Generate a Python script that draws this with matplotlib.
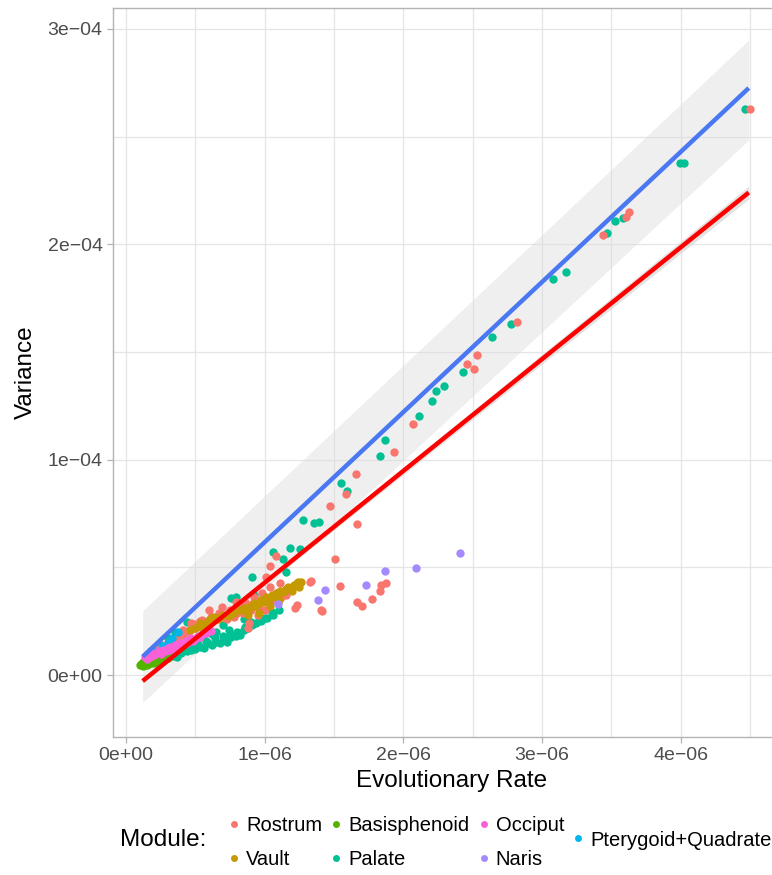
import numpy as np
import matplotlib
matplotlib.use('Agg')
import matplotlib.pyplot as plt
from matplotlib.lines import Line2D
from matplotlib.ticker import FuncFormatter, MultipleLocator

plt.rcParams['font.family'] = ['Liberation Sans', 'DejaVu Sans']

# x in units of 1e-6, y in units of 1e-4
rostrum_x = [4.50, 3.624, 3.605, 3.439, 2.819, 2.528, 2.507, 2.456, 2.067, 1.932, 1.658, 1.588, 1.469,
             1.663, 1.081, 1.035, 1.505, 1.332, 1.545, 1.872, 1.836, 1.831, 1.774, 1.663, 1.698, 1.407,
             0.15, 0.18, 0.22, 0.26, 0.30, 0.34, 0.38, 0.41, 0.44, 0.47, 0.50, 0.53, 0.55, 0.58, 0.61,
             0.64, 0.67, 0.69, 0.70, 0.72, 0.75, 0.77, 0.80, 0.82, 0.85, 0.88, 0.89, 0.91, 0.94, 0.97,
             1.01, 1.04, 1.06, 1.08, 1.11, 1.15, 1.22, 1.23, 1.33, 1.41, 0.60, 0.79, 0.95, 1.00,
             0.20, 0.24, 0.28, 0.32, 0.36, 0.40, 0.43, 0.46, 0.49, 0.52, 0.56, 0.62, 0.66, 0.73, 0.78,
             0.84, 0.90, 0.96, 1.03, 1.12, 0.86, 0.92, 0.98]
rostrum_y = [2.628, 2.149, 2.128, 2.041, 1.637, 1.487, 1.419, 1.442, 1.164, 1.037, 0.935, 0.842, 0.786,
             0.700, 0.554, 0.507, 0.538, 0.435, 0.415, 0.428, 0.416, 0.390, 0.353, 0.341, 0.319, 0.300,
             0.09, 0.10, 0.12, 0.13, 0.15, 0.16, 0.18, 0.21, 0.20, 0.24, 0.22, 0.25, 0.255, 0.24, 0.27,
             0.26, 0.29, 0.317, 0.271, 0.28, 0.30, 0.302, 0.29, 0.32, 0.31, 0.218, 0.241, 0.33, 0.32, 0.35,
             0.456, 0.41, 0.348, 0.38, 0.427, 0.37, 0.31, 0.325, 0.433, 0.298, 0.30, 0.34, 0.28, 0.30,
             0.11, 0.125, 0.14, 0.155, 0.17, 0.185, 0.19, 0.21, 0.235, 0.23, 0.235, 0.25, 0.275, 0.26, 0.27,
             0.29, 0.30, 0.31, 0.33, 0.36, 0.34, 0.36, 0.38]

palate_x = [4.46, 3.994, 4.023, 3.583, 3.526, 3.466, 3.170, 3.079, 2.776, 2.641, 2.431, 2.291, 2.233,
            2.208, 2.112, 1.867, 1.831, 1.548, 1.591, 1.278, 1.358, 1.391, 1.060, 1.186, 1.255, 1.133,
            1.154, 0.905,
            0.20, 0.25, 0.30, 0.34, 0.37, 0.40, 0.44, 0.47, 0.50, 0.53, 0.56, 0.59, 0.62, 0.65, 0.68,
            0.71, 0.73, 0.76, 0.79, 0.82, 0.82, 0.85, 0.88, 0.91, 0.94, 0.97, 1.00, 1.02, 1.05, 1.10,
            0.92, 0.79, 0.76, 0.44, 0.30, 0.35, 0.60, 0.70, 0.55, 0.45, 0.65, 0.85, 0.25, 0.18,
            0.22, 0.28, 0.32, 0.36, 0.42, 0.48, 0.52, 0.58, 0.64, 0.70, 0.75, 0.80, 0.86, 0.90, 0.96,
            1.06, 0.40, 0.50, 0.62, 0.74]
palate_y = [2.628, 2.377, 2.377, 2.123, 2.109, 2.051, 1.870, 1.840, 1.628, 1.569, 1.405, 1.342, 1.317,
            1.272, 1.202, 1.091, 1.017, 0.890, 0.856, 0.718, 0.704, 0.710, 0.572, 0.588, 0.586, 0.539,
            0.480, 0.454,
            0.07, 0.08, 0.085, 0.09, 0.085, 0.10, 0.11, 0.116, 0.12, 0.13, 0.125, 0.147, 0.14, 0.155, 0.15,
            0.162, 0.155, 0.175, 0.18, 0.186, 0.195, 0.21, 0.22, 0.23, 0.24, 0.25, 0.265, 0.263, 0.294, 0.302,
            0.371, 0.364, 0.356, 0.247, 0.17, 0.20, 0.20, 0.23, 0.18, 0.15, 0.20, 0.26, 0.14, 0.11,
            0.075, 0.09, 0.10, 0.11, 0.12, 0.13, 0.145, 0.16, 0.17, 0.18, 0.19, 0.20, 0.225, 0.245, 0.27,
            0.28, 0.14, 0.16, 0.19, 0.21]

vault_x = [0.46, 0.50, 0.53, 0.57, 0.60, 0.63, 0.66, 0.70, 0.74, 0.78, 0.82, 0.85, 0.88, 0.90, 0.92,
           0.95, 0.97, 0.99, 1.01, 1.03, 1.05, 1.07, 1.09, 1.11, 1.13, 1.15, 1.17, 1.19, 1.21, 1.23,
           1.26, 0.96, 1.04, 1.10, 0.88, 1.25, 1.20,
           0.54, 0.68, 0.76, 0.84, 0.93, 1.00, 1.08, 1.14, 1.18, 1.24]
vault_y = [0.21, 0.22, 0.24, 0.235, 0.255, 0.27, 0.26, 0.28, 0.275, 0.29, 0.30, 0.31, 0.30, 0.32, 0.335,
           0.33, 0.35, 0.34, 0.36, 0.355, 0.37, 0.365, 0.38, 0.39, 0.385, 0.40, 0.41, 0.405, 0.42, 0.425,
           0.43, 0.29, 0.32, 0.35, 0.28, 0.41, 0.39,
           0.225, 0.27, 0.285, 0.30, 0.32, 0.35, 0.375, 0.39, 0.40, 0.43]

basi_x = [0.10, 0.11, 0.12, 0.13, 0.14, 0.15, 0.16, 0.17, 0.18, 0.19, 0.20, 0.21, 0.22, 0.24, 0.26,
          0.28, 0.12, 0.15, 0.30]
basi_y = [0.045, 0.05, 0.042, 0.055, 0.048, 0.058, 0.05, 0.062, 0.055, 0.065, 0.058, 0.068, 0.062, 0.07,
          0.072, 0.078, 0.06, 0.045, 0.08]

naris_x = [2.408, 2.091, 1.864, 1.729, 1.437, 1.383, 1.098]
naris_y = [0.568, 0.495, 0.484, 0.416, 0.395, 0.347, 0.330]

ptery_x = [0.20, 0.26, 0.30, 0.33, 0.375]
ptery_y = [0.11, 0.135, 0.15, 0.17, 0.20]

occ_x = [0.14, 0.16, 0.17, 0.19, 0.20, 0.22, 0.24, 0.25, 0.27, 0.29, 0.30, 0.32, 0.34, 0.35, 0.37,
         0.39, 0.41, 0.43, 0.45, 0.47, 0.50, 0.52, 0.55, 0.58, 0.61,
         0.15, 0.21, 0.26, 0.31, 0.36, 0.40, 0.44, 0.48, 0.53]
occ_y = [0.085, 0.09, 0.082, 0.10, 0.092, 0.105, 0.11, 0.098, 0.118, 0.112, 0.125, 0.13, 0.122, 0.14,
         0.135, 0.148, 0.142, 0.16, 0.155, 0.17, 0.165, 0.18, 0.19, 0.195, 0.205,
         0.075, 0.098, 0.105, 0.118, 0.128, 0.14, 0.15, 0.16, 0.175]

# fitted lines and their bands (end points)
fit_x = [0.12, 4.49]
blue_y = [0.085, 2.725]
blue_lo = [-0.128, 2.484]
blue_hi = [0.298, 2.948]
red_y = [-0.028, 2.24]
red_lo = [-0.036, 2.21]
red_hi = [-0.020, 2.27]

modules = ['Rostrum', 'Vault', 'Basisphenoid', 'Palate', 'Occiput', 'Naris', 'Pterygoid+Quadrate']
colors = {'Rostrum': '#F8766D', 'Vault': '#C49A00', 'Basisphenoid': '#53B400', 'Palate': '#00C094',
          'Occiput': '#FB61D7', 'Naris': '#A58AFF', 'Pterygoid+Quadrate': '#00B6EB'}
series = {'Rostrum': (rostrum_x, rostrum_y), 'Vault': (vault_x, vault_y),
          'Basisphenoid': (basi_x, basi_y), 'Palate': (palate_x, palate_y),
          'Occiput': (occ_x, occ_y), 'Naris': (naris_x, naris_y),
          'Pterygoid+Quadrate': (ptery_x, ptery_y)}
draw_order = ['Palate', 'Rostrum', 'Vault', 'Basisphenoid', 'Pterygoid+Quadrate', 'Naris', 'Occiput']

W, H = 772, 875
fig = plt.figure(figsize=(W/100, H/100), dpi=100)
ax = fig.add_axes([113/W, 1 - 737/H, (790-113)/W, (737-8)/H])

fx = np.array(fit_x)*1e-6
ax.fill_between(fx, np.array(blue_lo)*1e-4, np.array(blue_hi)*1e-4, color='#d9d9d9', alpha=0.4, lw=0, zorder=1)
ax.fill_between(fx, np.array(red_lo)*1e-4, np.array(red_hi)*1e-4, color='#d0d0d0', alpha=0.6, lw=0, zorder=1)

for m in draw_order:
    xs, ys = series[m]
    ax.scatter(np.array(xs)*1e-6, np.array(ys)*1e-4, s=36, color=colors[m], lw=0, zorder=3)

ax.plot(fx, np.array(blue_y)*1e-4, color='#4a77f2', lw=3.2, zorder=4, solid_capstyle='butt')
ax.plot(fx, np.array(red_y)*1e-4, color='#ff0000', lw=3.2, zorder=4, solid_capstyle='butt')

ax.set_xlim((113-126)/138.7*1e-6, (790-126)/138.7*1e-6)
ax.set_ylim(-(737-675)/215.4*1e-4, (675-8)/215.4*1e-4)

ax.xaxis.set_major_locator(MultipleLocator(1e-6))
ax.xaxis.set_minor_locator(MultipleLocator(0.5e-6))
ax.yaxis.set_major_locator(MultipleLocator(1e-4))
ax.yaxis.set_minor_locator(MultipleLocator(0.5e-4))

def sci(v, pos):
    return ('%.0e' % v).replace('-', '\u2212')

ax.xaxis.set_major_formatter(FuncFormatter(sci))
ax.yaxis.set_major_formatter(FuncFormatter(sci))
ax.grid(True, which='both', color='#e5e5e5', lw=0.9, zorder=0)
ax.set_axisbelow(True)
ax.tick_params(which='major', length=4.5, width=0.9, color='#b3b3b3', labelcolor='#4d4d4d',
               labelsize=14, pad=3)
ax.tick_params(which='minor', length=0)
for sp in ax.spines.values():
    sp.set_color('#b3b3b3')
    sp.set_linewidth(1)

ax.set_xlabel('Evolutionary Rate', fontsize=17.5, labelpad=4)
ax.set_ylabel('Variance', fontsize=17.5, labelpad=8)

# legend
fig.text(120/W, 1 - 840/H, 'Module:', fontsize=17.5, va='center', ha='left')
handles = [Line2D([], [], marker='o', ls='none', markersize=5, markeredgewidth=0,
                  color=colors[m], label=m) for m in modules[:6]]
fig.legend(handles=handles, ncol=3, loc='upper left', bbox_to_anchor=(226/W, 1 - 816/H),
           frameon=False, fontsize=14.5, handlelength=0.8, handletextpad=0.2,
           columnspacing=0.3, labelspacing=0.75, borderpad=0, borderaxespad=0)
h2 = [Line2D([], [], marker='o', ls='none', markersize=5, markeredgewidth=0,
             color=colors['Pterygoid+Quadrate'], label='Pterygoid+Quadrate')]
fig.legend(handles=h2, loc='center left', bbox_to_anchor=(570/W, 1 - 840/H), frameon=False,
           fontsize=14.5, handlelength=0.8, handletextpad=0.2, borderpad=0, borderaxespad=0)

fig.savefig('out.png', dpi=100)
